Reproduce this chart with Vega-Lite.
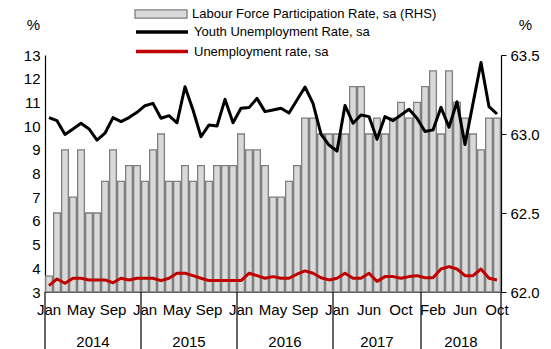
{
  "$schema": "https://vega.github.io/schema/vega-lite/v6.json",
  "width": 456,
  "height": 237,
  "autosize": {"type": "none"},
  "padding": {"left": 45, "top": 55, "right": 50, "bottom": 57},
  "background": "white",
  "config": {
    "font": "Liberation Sans",
    "view": {"stroke": null},
    "axis": {
      "grid": false,
      "labelFont": "Liberation Sans",
      "labelFontSize": 15,
      "labelColor": "black",
      "labelOverlap": false,
      "domainColor": "black",
      "domainWidth": 1.2,
      "tickColor": "black",
      "titleFont": "Liberation Sans",
      "titleFontSize": 15,
      "titleFontWeight": "normal",
      "titleColor": "black"
    },
    "legend": {
      "orient": "none",
      "title": null,
      "labelFont": "Liberation Sans",
      "labelFontSize": 13,
      "labelColor": "black",
      "labelLimit": 0,
      "labelOffset": 4,
      "symbolSize": 2704,
      "clipHeight": 14.5,
      "rowPadding": 4.5
    }
  },
  "datasets": {
    "monthly": [
      {"m": "Jan 2014", "lfpr": 62.1, "youth": 10.36, "unemp": 3.27},
      {"m": "Feb 2014", "lfpr": 62.5, "youth": 10.23, "unemp": 3.55},
      {"m": "Mar 2014", "lfpr": 62.9, "youth": 9.65, "unemp": 3.37},
      {"m": "Apr 2014", "lfpr": 62.6, "youth": 9.88, "unemp": 3.58},
      {"m": "May 2014", "lfpr": 62.9, "youth": 10.12, "unemp": 3.58},
      {"m": "Jun 2014", "lfpr": 62.5, "youth": 9.88, "unemp": 3.51},
      {"m": "Jul 2014", "lfpr": 62.5, "youth": 9.41, "unemp": 3.51},
      {"m": "Aug 2014", "lfpr": 62.7, "youth": 9.70, "unemp": 3.51},
      {"m": "Sep 2014", "lfpr": 62.9, "youth": 10.36, "unemp": 3.39},
      {"m": "Oct 2014", "lfpr": 62.7, "youth": 10.19, "unemp": 3.58},
      {"m": "Nov 2014", "lfpr": 62.8, "youth": 10.36, "unemp": 3.51},
      {"m": "Dec 2014", "lfpr": 62.8, "youth": 10.58, "unemp": 3.58},
      {"m": "Jan 2015", "lfpr": 62.7, "youth": 10.86, "unemp": 3.58},
      {"m": "Feb 2015", "lfpr": 62.9, "youth": 10.96, "unemp": 3.58},
      {"m": "Mar 2015", "lfpr": 63.0, "youth": 10.33, "unemp": 3.48},
      {"m": "Apr 2015", "lfpr": 62.7, "youth": 10.44, "unemp": 3.58},
      {"m": "May 2015", "lfpr": 62.7, "youth": 10.14, "unemp": 3.79},
      {"m": "Jun 2015", "lfpr": 62.8, "youth": 11.66, "unemp": 3.79},
      {"m": "Jul 2015", "lfpr": 62.7, "youth": 10.68, "unemp": 3.69},
      {"m": "Aug 2015", "lfpr": 62.8, "youth": 9.55, "unemp": 3.58},
      {"m": "Sep 2015", "lfpr": 62.7, "youth": 10.05, "unemp": 3.48},
      {"m": "Oct 2015", "lfpr": 62.8, "youth": 10.0, "unemp": 3.48},
      {"m": "Nov 2015", "lfpr": 62.8, "youth": 11.13, "unemp": 3.48},
      {"m": "Dec 2015", "lfpr": 62.8, "youth": 10.14, "unemp": 3.48},
      {"m": "Jan 2016", "lfpr": 63.0, "youth": 10.75, "unemp": 3.48},
      {"m": "Feb 2016", "lfpr": 62.9, "youth": 10.78, "unemp": 3.79},
      {"m": "Mar 2016", "lfpr": 62.9, "youth": 11.17, "unemp": 3.69},
      {"m": "Apr 2016", "lfpr": 62.8, "youth": 10.61, "unemp": 3.58},
      {"m": "May 2016", "lfpr": 62.6, "youth": 10.68, "unemp": 3.65},
      {"m": "Jun 2016", "lfpr": 62.6, "youth": 10.75, "unemp": 3.58},
      {"m": "Jul 2016", "lfpr": 62.7, "youth": 10.55, "unemp": 3.58},
      {"m": "Aug 2016", "lfpr": 62.8, "youth": 11.1, "unemp": 3.75},
      {"m": "Sep 2016", "lfpr": 63.1, "youth": 11.65, "unemp": 3.89},
      {"m": "Oct 2016", "lfpr": 63.1, "youth": 10.96, "unemp": 3.79},
      {"m": "Nov 2016", "lfpr": 63.0, "youth": 9.66, "unemp": 3.60},
      {"m": "Dec 2016", "lfpr": 63.0, "youth": 9.2, "unemp": 3.51},
      {"m": "Jan 2017", "lfpr": 63.0, "youth": 8.95, "unemp": 3.58},
      {"m": "Feb 2017", "lfpr": 63.0, "youth": 10.87, "unemp": 3.79},
      {"m": "Mar 2017", "lfpr": 63.3, "youth": 10.12, "unemp": 3.58},
      {"m": "Apr 2017", "lfpr": 63.3, "youth": 10.47, "unemp": 3.58},
      {"m": "Jun 2017", "lfpr": 63.0, "youth": 10.40, "unemp": 3.79},
      {"m": "Jul 2017", "lfpr": 63.1, "youth": 9.44, "unemp": 3.45},
      {"m": "Aug 2017", "lfpr": 63.0, "youth": 10.40, "unemp": 3.65},
      {"m": "Sep 2017", "lfpr": 63.1, "youth": 10.23, "unemp": 3.65},
      {"m": "Oct 2017", "lfpr": 63.2, "youth": 10.47, "unemp": 3.58},
      {"m": "Nov 2017", "lfpr": 63.1, "youth": 10.71, "unemp": 3.65},
      {"m": "Dec 2017", "lfpr": 63.2, "youth": 10.33, "unemp": 3.69},
      {"m": "Jan 2018", "lfpr": 63.3, "youth": 9.77, "unemp": 3.60},
      {"m": "Feb 2018", "lfpr": 63.4, "youth": 9.84, "unemp": 3.60},
      {"m": "Mar 2018", "lfpr": 63.0, "youth": 10.79, "unemp": 3.97},
      {"m": "Apr 2018", "lfpr": 63.4, "youth": 9.95, "unemp": 4.07},
      {"m": "May 2018", "lfpr": 63.2, "youth": 11.03, "unemp": 3.97},
      {"m": "Jun 2018", "lfpr": 63.1, "youth": 9.22, "unemp": 3.69},
      {"m": "Jul 2018", "lfpr": 63.0, "youth": 10.96, "unemp": 3.69},
      {"m": "Aug 2018", "lfpr": 62.9, "youth": 12.68, "unemp": 3.97},
      {"m": "Sep 2018", "lfpr": 63.1, "youth": 10.82, "unemp": 3.58},
      {"m": "Oct 2018", "lfpr": 63.1, "youth": 10.51, "unemp": 3.51}
    ],
    "years": [
      {"year": "2014", "mid": 6},
      {"year": "2015", "mid": 18},
      {"year": "2016", "mid": 30},
      {"year": "2017", "mid": 41.5},
      {"year": "2018", "mid": 52}
    ],
    "bounds": [
      {"b": 0}, {"b": 12}, {"b": 24}, {"b": 36}, {"b": 47}, {"b": 57}
    ]
  },
  "layer": [
    {
      "data": {"name": "monthly"},
      "mark": {"type": "bar", "stroke": "#7f7f7f", "strokeWidth": 1.3},
      "encoding": {
        "x": {
          "field": "m",
          "type": "ordinal",
          "sort": null,
          "scale": {"paddingInner": 0.16, "paddingOuter": 0.08},
          "axis": {
            "values": ["Jan 2014", "May 2014", "Sep 2014", "Jan 2015", "May 2015", "Sep 2015", "Jan 2016", "May 2016", "Sep 2016", "Jan 2017", "Jun 2017", "Oct 2017", "Feb 2018", "Jun 2018", "Oct 2018"],
            "labelExpr": "split(datum.value, ' ')[0]",
            "labelAngle": 0,
            "ticks": false,
            "labelPadding": 10,
            "title": null
          }
        },
        "y": {
          "field": "lfpr",
          "type": "quantitative",
          "scale": {"domain": [62, 63.5], "zero": false, "nice": false},
          "axis": {
            "orient": "right",
            "values": [62, 62.5, 63, 63.5],
            "format": ".1f",
            "tickSize": 5,
            "labelPadding": 4,
            "title": "%",
            "titleAngle": 0,
            "titleX": 24,
            "titleY": -31,
            "titleAlign": "center",
            "titleBaseline": "middle"
          }
        },
        "y2": {"datum": 62},
        "fill": {
          "datum": "Labour Force Participation Rate, sa (RHS)",
          "scale": {"range": ["#d9d9d9"]},
          "legend": {
            "legendX": 89,
            "legendY": -48.25,
            "symbolType": "M-1,-0.16H1V0.16H-1Z",
            "symbolStrokeColor": "#7f7f7f",
            "symbolStrokeWidth": 1.3,
            "symbolOpacity": 1
          }
        }
      }
    },
    {
      "data": {"name": "monthly"},
      "encoding": {
        "x": {"field": "m", "type": "ordinal", "sort": null, "axis": null}
      },
      "layer": [
        {
          "mark": {"type": "line", "strokeWidth": 3, "strokeJoin": "round"},
          "encoding": {
            "y": {
              "field": "youth",
              "type": "quantitative",
              "scale": {"domain": [3, 13], "zero": false, "nice": false},
              "axis": {
                "orient": "left",
                "values": [3, 4, 5, 6, 7, 8, 9, 10, 11, 12, 13],
                "ticks": false,
                "labelPadding": 5,
                "labelOverlap": false,
                "title": "%",
                "titleAngle": 0,
                "titleX": -12,
                "titleY": -31,
                "titleAlign": "center",
                "titleBaseline": "middle"
              }
            },
            "stroke": {
              "datum": "Youth Unemployment Rate, sa",
              "scale": {
                "domain": ["Youth Unemployment Rate, sa", "Unemployment rate, sa"],
                "range": ["#000000", "#c00000"]
              },
              "legend": {
                "legendX": 89,
                "legendY": -30.25,
                "symbolType": "stroke",
                "symbolStrokeWidth": 3.5
              }
            }
          }
        },
        {
          "mark": {"type": "line", "strokeWidth": 3, "strokeJoin": "round"},
          "encoding": {
            "y": {
              "field": "unemp",
              "type": "quantitative",
              "axis": {
                "orient": "left",
                "values": [3, 4, 5, 6, 7, 8, 9, 10, 11, 12, 13],
                "ticks": false,
                "labelPadding": 5,
                "labelOverlap": false,
                "title": "%",
                "titleAngle": 0,
                "titleX": -12,
                "titleY": -31,
                "titleAlign": "center",
                "titleBaseline": "middle"
              }
            },
            "stroke": {"datum": "Unemployment rate, sa"}
          }
        }
      ]
    },
    {
      "layer": [
        {
          "data": {"name": "bounds"},
          "mark": {"type": "rule", "color": "black", "strokeWidth": 1.2},
          "encoding": {
            "x": {"field": "b", "type": "quantitative", "scale": {"domain": [0, 57], "nice": false, "zero": false}, "axis": null},
            "y": {"datum": 3, "type": "quantitative", "scale": {"domain": [3, 13], "nice": false, "zero": false}, "axis": null},
            "y2": {"datum": 0.55}
          }
        },
        {
          "data": {"name": "years"},
          "mark": {"type": "text", "fontSize": 15, "baseline": "middle", "align": "center", "color": "black"},
          "encoding": {
            "x": {"field": "mid", "type": "quantitative"},
            "y": {"datum": 0.9, "type": "quantitative"},
            "text": {"field": "year"}
          }
        }
      ]
    }
  ],
  "resolve": {"scale": {"x": "independent", "y": "independent"}}
}
